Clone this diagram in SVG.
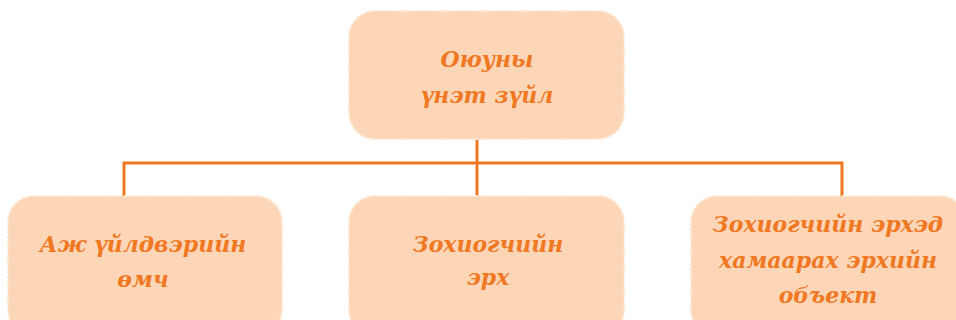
<svg xmlns="http://www.w3.org/2000/svg" width="956" height="320" viewBox="0 0 956 320">
  <style>
    .box { fill: #FCD6B6; stroke: #FDE6D2; stroke-width: 2; stroke-dasharray: 3 2; }
    .lbl { font-family: "DejaVu Serif", "Liberation Serif", serif; font-weight: bold; font-style: italic; font-size: 22px; fill: #F07822; text-anchor: middle; }
    .wire { fill: none; stroke: #F07822; stroke-width: 3; }
  </style>
  <rect width="956" height="320" fill="#FFFFFF"/>

  <g id="connectors">
    <line class="wire" x1="477" y1="139" x2="477" y2="196"/>
    <polyline class="wire" points="124,196 124,163 842,163 842,196"/>
  </g>

  <g id="node-root">
    <rect class="box" x="349" y="11" width="275" height="128" rx="26"/>
    <text class="lbl" x="487" y="67">Оюуны</text>
    <text class="lbl" x="487" y="103">үнэт зүйл</text>
  </g>

  <g id="node-industrial">
    <rect class="box" x="8" y="196" width="274" height="140" rx="26"/>
    <text class="lbl" x="143" y="252">Аж үйлдвэрийн</text>
    <text class="lbl" x="143" y="287">өмч</text>
  </g>

  <g id="node-copyright">
    <rect class="box" x="349" y="196" width="275" height="140" rx="26"/>
    <text class="lbl" x="488" y="252">Зохиогчийн</text>
    <text class="lbl" x="488" y="285">эрх</text>
  </g>

  <g id="node-related">
    <rect class="box" x="691" y="196" width="275" height="140" rx="26"/>
    <text class="lbl" x="828" y="232">Зохиогчийн эрхэд</text>
    <text class="lbl" x="828" y="268">хамаарах эрхийн</text>
    <text class="lbl" x="828" y="303">объект</text>
  </g>
</svg>
